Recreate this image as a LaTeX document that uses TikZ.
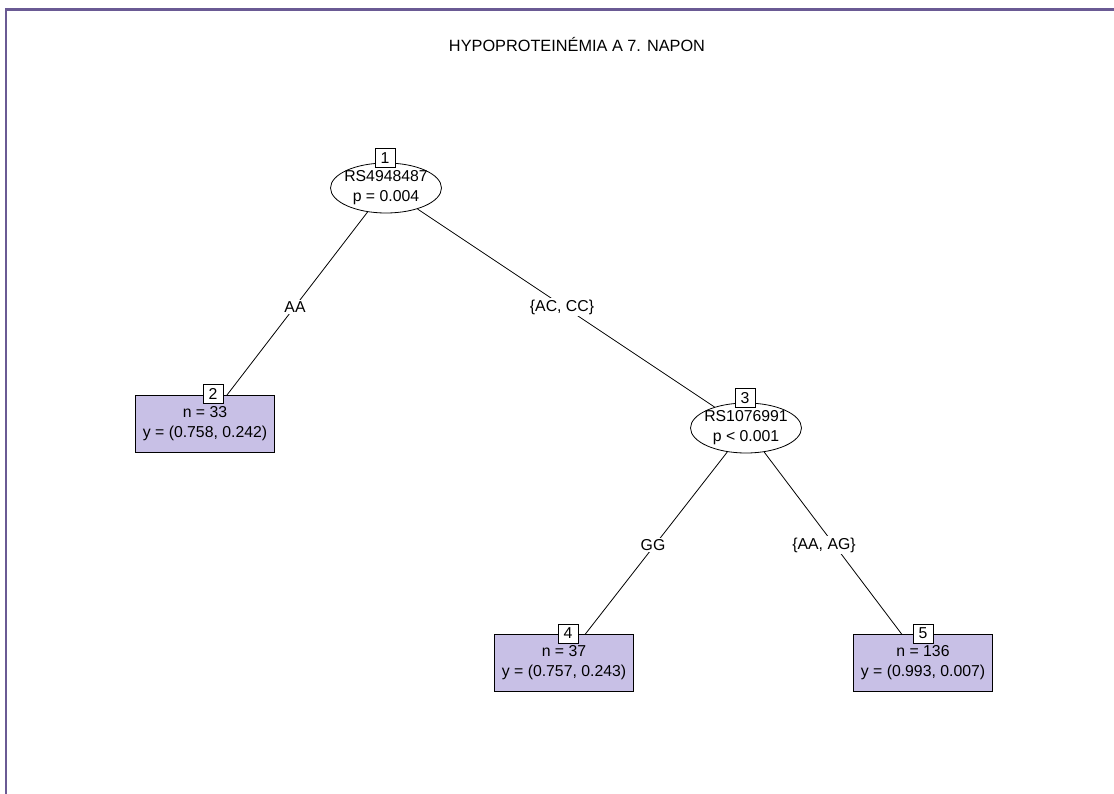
\documentclass[tikz,border=0pt]{standalone}
\usepackage{fontspec}
\setmainfont{Liberation Sans}
\usetikzlibrary{shapes.geometric}
\definecolor{frameviolet}{RGB}{106,90,148}
\definecolor{leaffill}{RGB}{200,192,230}
\tikzset{
  txt/.style={font=\fontsize{15.8}{20}\selectfont},
  inner/.style={txt, ellipse, draw, line width=0.8pt, inner xsep=-2.5pt, inner ysep=0pt,
    minimum width=108pt, minimum height=50pt, align=center, fill=white},
  leaf/.style={txt, draw, line width=0.8pt, fill=leaffill, inner sep=0pt,
    minimum width=139pt, minimum height=57pt, align=center},
  idbox/.style={txt, draw, line width=0.8pt, fill=white, inner sep=0pt,
    minimum width=20pt, minimum height=19pt},
  edge/.style={line width=0.8pt},
  elabel/.style={txt, fill=white, inner sep=1.5pt}
}
\begin{document}
\begin{tikzpicture}[x=1pt,y=-1pt]
  \useasboundingbox (0,0) rectangle (1114,793);
  % frame
  \draw[frameviolet, line width=2.6pt] (6,800) -- (6,9.5) -- (1120,9.5);
  % title
  \node[font=\fontsize{16.3}{20}\selectfont] (title) at (577,45) {HYPOPROTEINÉMIA A 7. NAPON};

  % inner nodes
  \node[inner] (n1) at (386,188) {RS4948487\\p = 0.004};
  \node[inner] (n3) at (746,428) {RS1076991\\p < 0.001};

  % terminal nodes
  \node[leaf] (n2) at (205,424) {n = 33\\y = (0.758, 0.242)};
  \node[leaf] (n4) at (564,663) {n = 37\\y = (0.757, 0.243)};
  \node[leaf] (n5) at (923,663) {n = 136\\y = (0.993, 0.007)};

  % edge end points on the terminal boxes
  \coordinate (in2) at (227,395);
  \coordinate (in4) at (585,634.5);
  \coordinate (in5) at (902,634.5);

  % edges
  \draw[edge] (n1) -- (in2);
  \draw[edge] (n1) -- (n3);
  \draw[edge] (n3) -- (in4);
  \draw[edge] (n3) -- (in5);

  % edge labels
  \node[elabel] (l12) at (295,307) {AA};
  \node[elabel] (l13) at (562,307) {\{AC, CC\}};
  \node[elabel] (l34) at (653,545) {GG};
  \node[elabel] (l35) at (824,545) {\{AA, AG\}};

  % node ids
  \node[idbox] (id1) at (385,158) {1};
  \node[idbox] (id2) at (213,393.5) {2};
  \node[idbox] (id3) at (745,398) {3};
  \node[idbox] (id4) at (568,633.5) {4};
  \node[idbox] (id5) at (923,633.5) {5};
\end{tikzpicture}
\end{document}
